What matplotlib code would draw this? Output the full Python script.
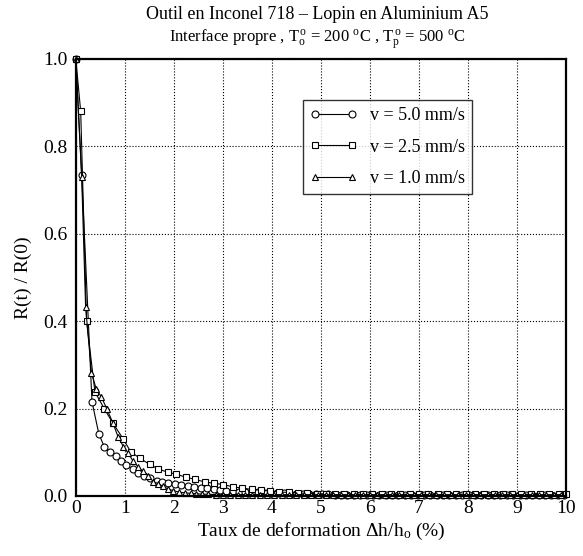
"""
Outil en Inconel 718 - Lopin en Aluminium A5
R(t)/R(0) en fonction du taux de deformation, trois vitesses
"""

import matplotlib.pyplot as plt

plt.rcParams['font.family'] = ['Liberation Serif', 'DejaVu Serif']
plt.rcParams['mathtext.fontset'] = 'custom'
plt.rcParams['mathtext.rm'] = 'Liberation Serif'
plt.rcParams['mathtext.it'] = 'Liberation Serif:italic'

# v = 5.0 mm/s (cercles)
x_v50 = [0.00, 0.12, 0.33, 0.47, 0.58, 0.69, 0.81, 0.93, 1.03, 1.16, 1.27, 1.39,
         1.51, 1.65, 1.76, 1.88, 2.02, 2.15, 2.29, 2.42, 2.55, 2.68, 2.81, 2.94,
         3.07, 3.20, 3.33, 3.46, 3.59, 3.72, 3.85, 3.98, 4.11, 4.24, 4.37, 4.50,
         4.63, 4.76, 4.89, 5.02, 5.15, 5.28, 5.41, 5.54, 5.67, 5.80, 5.93, 6.06,
         6.19, 6.32, 6.45, 6.58, 6.71, 6.84, 6.97, 7.10, 7.23, 7.36, 7.49, 7.62,
         7.75, 7.88, 8.01, 8.14, 8.27, 8.40, 8.53, 8.66, 8.79, 8.92, 9.05, 9.18,
         9.31, 9.44, 9.57, 9.70, 9.83, 9.96]
y_v50 = [1.000, 0.735, 0.216, 0.142, 0.113, 0.101, 0.092, 0.079, 0.071, 0.061, 0.053, 0.046,
         0.040, 0.035, 0.032, 0.030, 0.028, 0.025, 0.023, 0.021, 0.019, 0.018, 0.016, 0.014,
         0.012, 0.011, 0.010, 0.009, 0.008, 0.008, 0.007, 0.007, 0.006, 0.006, 0.005, 0.005,
         0.005, 0.004, 0.004, 0.004, 0.004, 0.003, 0.003, 0.003, 0.003, 0.003, 0.003, 0.003,
         0.003, 0.003, 0.003, 0.003, 0.003, 0.003, 0.003, 0.003, 0.003, 0.003, 0.003, 0.003,
         0.003, 0.003, 0.003, 0.003, 0.003, 0.003, 0.003, 0.003, 0.003, 0.003, 0.003, 0.003,
         0.003, 0.003, 0.003, 0.003, 0.003, 0.003]

# v = 2.5 mm/s (carres)
x_v25 = [0.00, 0.10, 0.22, 0.39, 0.58, 0.76, 0.97, 1.12, 1.31, 1.51, 1.68, 1.88,
         2.05, 2.24, 2.43, 2.63, 2.82, 3.01, 3.20, 3.38, 3.59, 3.77, 3.96, 4.15,
         4.34, 4.53, 4.72, 4.91, 5.10, 5.29, 5.48, 5.67, 5.86, 6.05, 6.24, 6.43,
         6.62, 6.81, 7.00, 7.19, 7.38, 7.57, 7.76, 7.95, 8.14, 8.33, 8.52, 8.71,
         8.90, 9.09, 9.28, 9.47, 9.66, 9.85, 10.00]
y_v25 = [1.000, 0.880, 0.400, 0.238, 0.200, 0.166, 0.130, 0.101, 0.086, 0.072, 0.062, 0.054,
         0.050, 0.043, 0.038, 0.032, 0.029, 0.026, 0.021, 0.018, 0.015, 0.013, 0.011, 0.009,
         0.008, 0.007, 0.006, 0.005, 0.005, 0.004, 0.004, 0.004, 0.004, 0.004, 0.004, 0.004,
         0.004, 0.004, 0.004, 0.004, 0.004, 0.004, 0.004, 0.004, 0.004, 0.004, 0.004, 0.004,
         0.004, 0.004, 0.004, 0.004, 0.004, 0.004, 0.004]

# v = 1.0 mm/s (triangles)
x_v10 = [0.00, 0.12, 0.20, 0.32, 0.42, 0.52, 0.63, 0.76, 0.86, 0.97, 1.07, 1.17,
         1.27, 1.37, 1.48, 1.58, 1.68, 1.78, 1.88, 1.99, 2.10, 2.22, 2.34, 2.46,
         2.58, 2.70, 2.85, 3.00, 3.15, 3.30, 3.45, 3.60, 3.75, 3.90, 4.05, 4.20,
         4.35, 4.50, 4.65, 4.80, 4.95, 5.10, 5.25, 5.40, 5.55, 5.70, 5.85, 6.00,
         6.15, 6.30, 6.45, 6.60, 6.75, 6.90, 7.05, 7.20, 7.35, 7.50, 7.65, 7.80,
         7.95, 8.10, 8.25, 8.40, 8.55, 8.70, 8.85, 9.00, 9.15, 9.30, 9.45, 9.60,
         9.75, 9.90]
y_v10 = [1.000, 0.730, 0.433, 0.281, 0.244, 0.227, 0.200, 0.166, 0.136, 0.113, 0.098, 0.079,
         0.067, 0.056, 0.045, 0.033, 0.028, 0.022, 0.016, 0.012, 0.009, 0.007, 0.006, 0.005,
         0.004, 0.004, 0.003, 0.003, 0.003, 0.003, 0.003, 0.003, 0.003, 0.003, 0.003, 0.003,
         0.003, 0.003, 0.003, 0.003, 0.003, 0.003, 0.003, 0.003, 0.003, 0.003, 0.003, 0.003,
         0.003, 0.003, 0.003, 0.003, 0.003, 0.003, 0.003, 0.003, 0.003, 0.003, 0.003, 0.003,
         0.003, 0.003, 0.003, 0.003, 0.003, 0.003, 0.003, 0.003, 0.003, 0.003, 0.003, 0.003,
         0.003, 0.003]

fig = plt.figure(figsize=(5.83, 5.56), dpi=100)
ax = fig.add_axes([0.130, 0.108, 0.841, 0.786])

style = dict(color='black', lw=0.8, mfc='white', mec='black', mew=0.8, ms=5, clip_on=False)
ax.plot(x_v50, y_v50, marker='o', label='v = 5.0 mm/s', **style)
ax.plot(x_v25, y_v25, marker='s', label='v = 2.5 mm/s', **style)
ax.plot(x_v10, y_v10, marker='^', label='v = 1.0 mm/s', **style)

ax.set_xlim(0, 10)
ax.set_ylim(0, 1.0)
ax.set_xticks(range(0, 11))
ax.set_yticks([0.0, 0.2, 0.4, 0.6, 0.8, 1.0])
ax.set_yticklabels(['0.0', '0.2', '0.4', '0.6', '0.8', '1.0'])
ax.tick_params(axis='x', length=0, labelsize=14, pad=3)
ax.tick_params(axis='y', length=0, labelsize=14, pad=6)
ax.grid(True, color='black', ls=':', lw=0.8)
for s in ax.spines.values():
    s.set_linewidth(1.6)

ax.set_xlabel(r'Taux de deformation $\Delta$h/h$_{\mathrm{o}}$ (%)', fontsize=14, labelpad=3)
ax.set_ylabel('R(t) / R(0)', fontsize=14, labelpad=8)

fig.text(0.545, 0.974, 'Outil en Inconel 718 \u2013 Lopin en Aluminium A5',
         ha='center', va='center', fontsize=13)
fig.text(0.545, 0.929,
         r'Interface propre , T$_{\mathrm{o}}^{\,\mathrm{o}}$ = 200 $^{\mathrm{o}}$C , '
         r'T$_{\mathrm{p}}^{\,\mathrm{o}}$ = 500 $^{\mathrm{o}}$C',
         ha='center', va='center', fontsize=12)

leg = ax.legend(loc='upper left', bbox_to_anchor=(0.463, 0.906), numpoints=2,
                fontsize=13, frameon=True, fancybox=False, edgecolor='black',
                handlelength=2.6, handletextpad=0.7, labelspacing=0.8,
                borderpad=0.4, borderaxespad=0)
leg.get_frame().set_linewidth(1.0)

plt.savefig('out.png', dpi=100)
